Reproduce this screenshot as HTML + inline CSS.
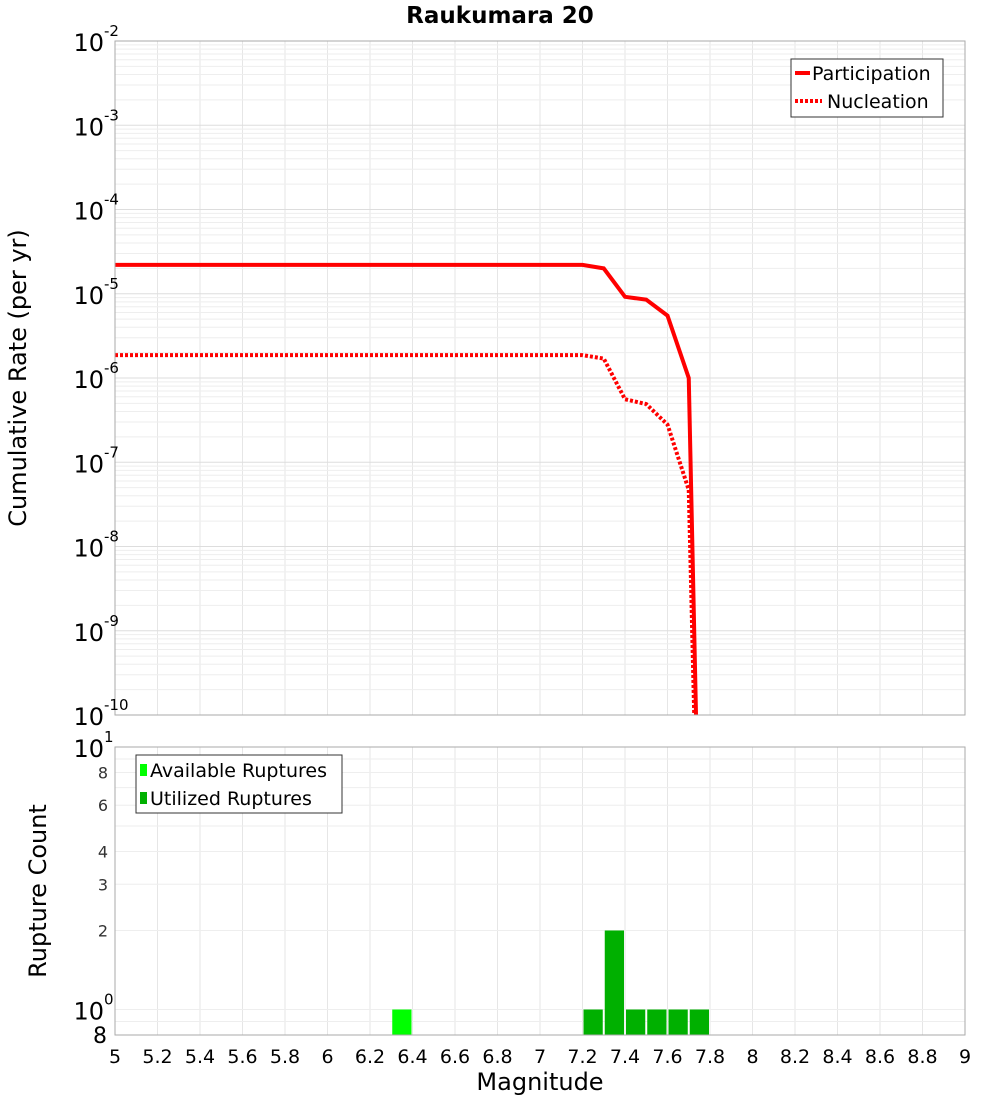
<!DOCTYPE html>
<html><head><meta charset="utf-8">
<style>
html,body{margin:0;padding:0;background:#fff;overflow:hidden;width:1000px;height:1100px;}
svg{display:block;font-family:"DejaVu Sans","Liberation Sans",sans-serif;}
</style></head>
<body>
<svg id="chart" width="1000" height="1100" viewBox="0 0 1000 1100" xmlns="http://www.w3.org/2000/svg">
<text x="500" y="23" text-anchor="middle" font-size="23" font-weight="bold">Raukumara 20</text>
<g id="top-grid"></g>
<g id="bot-grid"></g>
<g id="bars"></g>
<g id="lines"></g>
<rect x="115" y="41" width="850" height="674" fill="none" stroke="#aaa"/>
<rect x="115" y="747" width="850" height="288" fill="none" stroke="#aaa"/>
<g id="top-ticks"></g>
<g id="bot-ticks"></g>
<g id="x-ticks"></g>
<text transform="translate(26,378) rotate(-90)" text-anchor="middle" font-size="24">Cumulative Rate (per yr)</text>
<text transform="translate(46,891) rotate(-90)" text-anchor="middle" font-size="24">Rupture Count</text>
<text x="540" y="1090" text-anchor="middle" font-size="24">Magnitude</text>
<g>
<rect x="791" y="59" width="152" height="58" fill="#fff" stroke="#333"/>
<line x1="795" y1="73" x2="810" y2="73" stroke="#f00" stroke-width="4"/>
<text x="812" y="80" font-size="19">Participation</text>
<line x1="795" y1="101" x2="822" y2="101" stroke="#f00" stroke-width="4" stroke-dasharray="3,2"/>
<text x="827" y="108" font-size="19">Nucleation</text>
</g>
<g>
<rect x="136" y="755" width="206" height="58" fill="#fff" stroke="#333"/>
<rect x="140" y="764" width="7" height="12" fill="#00ff00"/>
<text x="150" y="777" font-size="19">Available Ruptures</text>
<rect x="140" y="792" width="7" height="12" fill="#00b000"/>
<text x="150" y="805" font-size="19">Utilized Ruptures</text>
</g>
</svg>
<script>
const mags = [5.0,5.1,5.2,5.3,5.4,5.5,5.6,5.7,5.8,5.9,6.0,6.1,6.2,6.3,6.4,6.5,6.6,6.7,6.8,6.9,7.0,7.1,7.2,7.3,7.4,7.5,7.6,7.7,7.8];
const participation = [2.2e-5,2.2e-5,2.2e-5,2.2e-5,2.2e-5,2.2e-5,2.2e-5,2.2e-5,2.2e-5,2.2e-5,2.2e-5,2.2e-5,2.2e-5,2.2e-5,2.2e-5,2.2e-5,2.2e-5,2.2e-5,2.2e-5,2.2e-5,2.2e-5,2.2e-5,2.2e-5,2.0e-5,9.2e-6,8.5e-6,5.5e-6,1.0e-6,2e-18];
const nucleation = [1.87e-6,1.87e-6,1.87e-6,1.87e-6,1.87e-6,1.87e-6,1.87e-6,1.87e-6,1.87e-6,1.87e-6,1.87e-6,1.87e-6,1.87e-6,1.87e-6,1.87e-6,1.87e-6,1.87e-6,1.87e-6,1.87e-6,1.87e-6,1.87e-6,1.87e-6,1.87e-6,1.7e-6,5.6e-7,4.9e-7,2.8e-7,4.7e-8,2e-18];
const availMags = [6.35];
const availCounts = [1];
const usedMags = [7.25,7.35,7.45,7.55,7.65,7.75];
const usedCounts = [1,2,1,1,1,1];
const xTicks = [5,5.2,5.4,5.6,5.8,6,6.2,6.4,6.6,6.8,7,7.2,7.4,7.6,7.8,8,8.2,8.4,8.6,8.8,9];
const topExps = [-2,-3,-4,-5,-6,-7,-8,-9,-10];
const botTicks = [8,1,2,3,4,6,8,10];

const NS="http://www.w3.org/2000/svg";
const X = m => 115 + (m-5)*212.5;
const YT = v => 41 + (-2 - Math.log10(v))*84.25;
const YB = v => 747 + (1 - Math.log10(v))*262.5;
function mk(tag, attrs, parent){const e=document.createElementNS(NS,tag);for(const k in attrs)e.setAttribute(k,attrs[k]);parent.appendChild(e);return e;}
const tg=document.getElementById('top-grid'), bg=document.getElementById('bot-grid');
xTicks.forEach(t=>{
  const l1=mk('line',{x1:X(t),x2:X(t),y1:41,y2:715,stroke:'#e6e6e6'},tg);
  
  
  const l2=mk('line',{x1:X(t),x2:X(t),y1:747,y2:1035,stroke:'#e6e6e6'},bg);
  
  
  const tx=mk('text',{x:X(t),y:1063,'text-anchor':'middle','font-size':19},document.getElementById('x-ticks'));
  tx.textContent=String(t);
  
  
});
for(let e=-10;e<-2;e++){for(let k=1;k<10;k++){const y=YT(k*Math.pow(10,e));
  const l=mk('line',{x1:115,x2:965,y1:y,y2:y,stroke:k==1?'#ddd':'#eee'},tg);
  
  }}
[0.8,0.9,1,2,3,4,5,6,7,8,9].forEach(v=>{const y=YB(v);
  const l=mk('line',{x1:115,x2:965,y1:y,y2:y,stroke:'#eee'},bg);
  
  });
const tt=document.getElementById('top-ticks');
topExps.forEach(e=>{const y=YT(Math.pow(10,e));
  const t=mk('text',{x:104,y:y+10,'text-anchor':'end','font-size':24},tt);
  t.textContent='10';
  
  
  const s=mk('text',{x:104,y:y-5,'font-size':15},tt);s.textContent=String(e);
  
  });
const bt=document.getElementById('bot-ticks');
const botVals=[0.8,1,2,3,4,6,8,10];
botVals.forEach((v,i)=>{const y=YB(v);const lab=botTicks[i];
  let t;
  if(v===1||v===10){t=mk('text',{x:104,y:y+10,'text-anchor':'end','font-size':24},bt);t.textContent='10';
    const s=mk('text',{x:104,y:y-5,'font-size':15},bt);s.textContent=v===1?'0':'1';
    
    }
  else if(v===0.8){t=mk('text',{x:107,y:y+8,'text-anchor':'end','font-size':22},bt);t.textContent=String(lab);}
  else{t=mk('text',{x:108,y:y+6,'text-anchor':'end','font-size':16,fill:'#333'},bt);t.textContent=String(lab);}
  
  });
const bars=document.getElementById('bars');
function drawBars(ms,cs,col,name){ms.forEach((m,i)=>{
  const y=YB(cs[i]);
  const r=mk('rect',{x:X(m-0.05)+1,y:y,width:212.5*0.1-2,height:1035-y,fill:col},bars);
  
  });}
drawBars(availMags,availCounts,'#00ff00','available-bar');
drawBars(usedMags,usedCounts,'#00b000','utilized-bar');
const lines=document.getElementById('lines');
mk('clipPath',{id:'clipTop'},lines);
mk('rect',{x:115,y:41,width:850,height:674},lines.lastChild);
function drawLine(vals,dash,name){
  const d=mags.map((m,i)=>(i?'L':'M')+X(m).toFixed(2)+','+YT(vals[i]).toFixed(2)).join(' ');
  const p=mk('path',{d:d,fill:'none',stroke:'#f00','stroke-width':4,'clip-path':'url(#clipTop)'},lines);
  if(dash)p.setAttribute('stroke-dasharray','3,2');
  
  }
drawLine(nucleation,true,'nucleation-line');
drawLine(participation,false,'participation-line');
</script>
</body></html>
